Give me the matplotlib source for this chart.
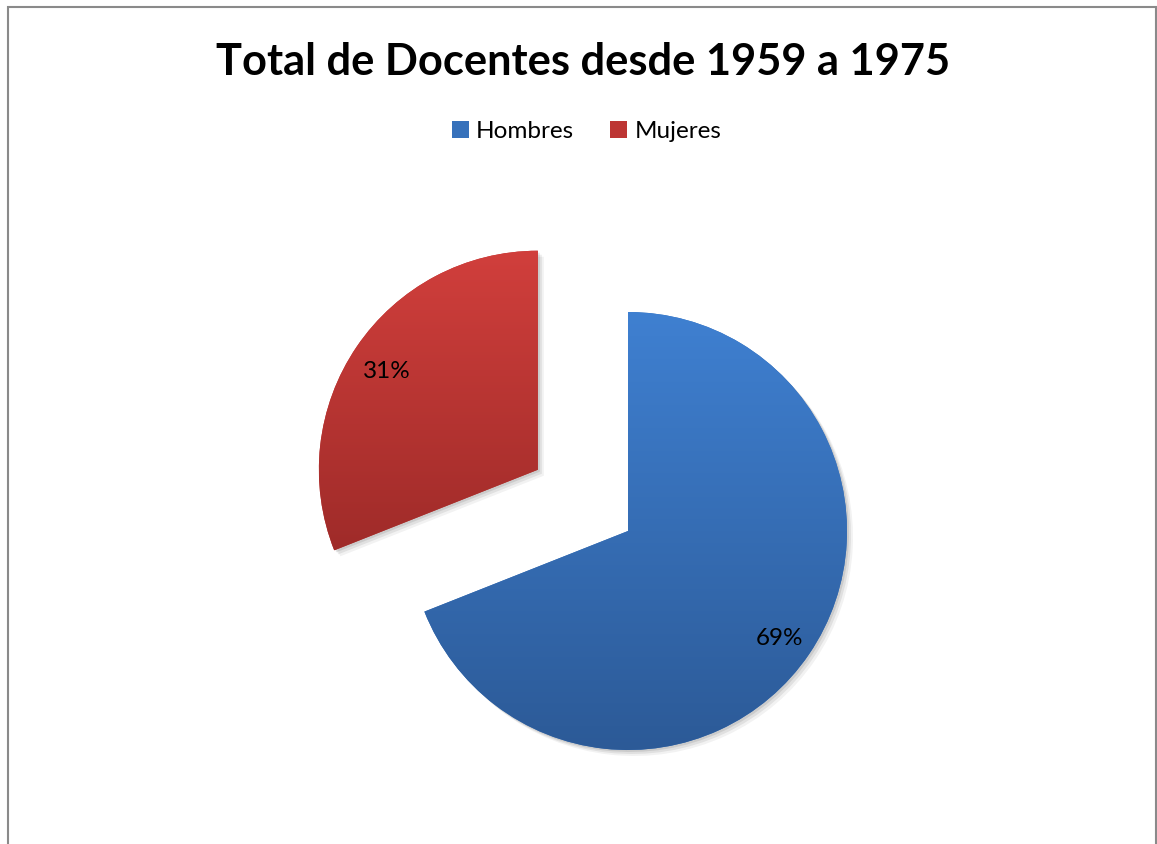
import numpy as np
import matplotlib.pyplot as plt
from matplotlib.patches import Patch, Rectangle, Wedge
from matplotlib.colors import LinearSegmentedColormap

# Datos del grafico
categorias = ["Hombres", "Mujeres"]
porcentajes = [69, 31]
titulo = "Total de Docentes desde 1959 a 1975"

# colores (arriba, abajo) del degradado de cada sector
colores_sup = ["#3f80d1", "#d13f3c"]
colores_inf = ["#2c5a97", "#9f2b29"]
colores_mid = ["#3671bb", "#bd3533"]

W, H = 1157, 844
fig = plt.figure(figsize=(W / 100, H / 100), dpi=100)
ax = fig.add_axes([0, 0, 1, 1])

R = 219
wedges, textos, autotextos = ax.pie(
    porcentajes, explode=[0, 109], center=(628, 313), radius=R,
    startangle=90, counterclock=False, colors=colores_mid,
    autopct="%1.0f%%", pctdistance=0.835,
    textprops={"fontsize": 17.5, "family": "Lato", "color": "black"},
)
ax.set_aspect("auto")
ax.axis("off")

# sombra suave y degradado vertical en cada sector
for w, c1, c2 in zip(wedges, colores_sup, colores_inf):
    for k, a in [(6, 0.05), (4, 0.07), (2, 0.09)]:
        sh = Wedge((w.center[0] + k, w.center[1] - k), w.r, w.theta1, w.theta2,
                   facecolor="black", edgecolor="none", alpha=a, zorder=0.5)
        ax.add_patch(sh)
    ext = w.get_path().get_extents()
    cmap = LinearSegmentedColormap.from_list("g", [c2, c1])
    grad = np.linspace(0, 1, 256).reshape(-1, 1)
    im = ax.imshow(grad, cmap=cmap, origin="lower", aspect="auto",
                   extent=(ext.x0, ext.x1, ext.y0, ext.y1), zorder=1.5)
    im.set_clip_path(w)
    w.set_zorder(1)

# etiquetas un poco mas abajo, como en Excel
for t in autotextos:
    t.set_zorder(3)
    x, y = t.get_position()
    t.set_position((x, y - 5))
ax.set_xlim(0, W)
ax.set_ylim(0, H)

fig.text(0.504, 0.927, titulo, ha="center", va="center",
         fontsize=31.2, fontweight="bold", family="Lato")

handles = [Patch(facecolor=c, edgecolor="none") for c in colores_mid]
fig.legend(handles, categorias, loc="center", bbox_to_anchor=(0.507, 0.844),
           ncol=2, frameon=False, handlelength=0.7, handleheight=0.7,
           handletextpad=0.3, columnspacing=1.5,
           prop={"family": "Lato", "size": 17.5})

# marco gris del area del grafico
fig.patches.append(Rectangle((8 / W, -0.02), 1148 / W, (H - 7) / H + 0.02,
                             transform=fig.transFigure, fill=False,
                             edgecolor="#8a8a8a", linewidth=1.5))

fig.savefig("out.png", dpi=100)
